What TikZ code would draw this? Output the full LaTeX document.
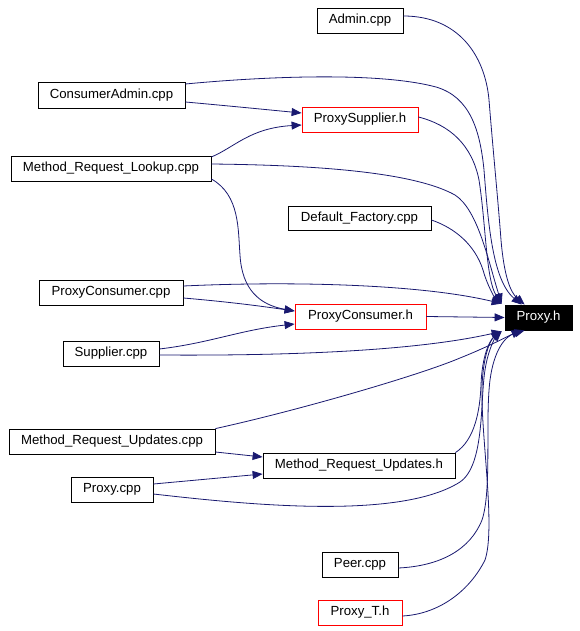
\documentclass[tikz,border=0pt]{standalone}
\usepackage{fontspec}
\setmainfont{Liberation Sans}
\usetikzlibrary{arrows.meta,calc}
\definecolor{edgec}{HTML}{191970}
\begin{document}
\begin{tikzpicture}[x=1pt,y=-1pt,
  box/.style={draw=black, line width=0.8pt, inner sep=0pt, minimum height=25pt,
    font=\fontsize{13.2}{15}\selectfont, fill=white},
  redbox/.style={box, draw=red},
  blackbox/.style={box, fill=black, text=white},
  edge/.style={draw=edgec, line width=0.8pt, -{Triangle[length=10pt,width=8pt]}}]
\useasboundingbox[fill=white] (0,0) rectangle (580,631);

% nodes
\node[box, minimum width=86pt] (admin) at (360,20.5) {Admin.cpp};
\node[box, minimum width=147pt, minimum height=26pt] (consadm) at (111.5,95) {ConsumerAdmin.cpp};
\node[redbox, minimum width=116pt] (proxsup) at (360,119.5) {ProxySupplier.h};
\node[box, minimum width=200pt] (mrl) at (111,168.5) {Method\_Request\_Lookup.cpp};
\node[box, minimum width=143pt, minimum height=24pt] (deffac) at (359.5,218) {Default\_Factory.cpp};
\node[box, minimum width=144pt] (pcc) at (111,292.5) {ProxyConsumer.cpp};
\node[redbox, minimum width=131pt] (pch) at (360.5,316.5) {ProxyConsumer.h};
\node[blackbox, minimum width=67pt] (proxyh) at (538.5,317.5) {Proxy.h};
\node[box, minimum width=96pt] (supp) at (111,353.5) {Supplier.cpp};
\node[box, minimum width=206pt] (mruc) at (112,441.5) {Method\_Request\_Updates.cpp};
\node[box, minimum width=192pt] (mruh) at (359,465.5) {Method\_Request\_Updates.h};
\node[box, minimum width=82pt] (proxc) at (112,489.5) {Proxy.cpp};
\node[box, minimum width=76pt] (peer) at (360,564.5) {Peer.cpp};
\node[redbox, minimum width=84pt] (proxt) at (360,612.5) {Proxy\_T.h};

% arrow tip points on Proxy.h
\coordinate (tl) at ($(proxyh.north west)+(-3,-1)$);
\coordinate (tr) at ($(proxyh.north west)+(17,0)$);
\coordinate (bl) at ($(proxyh.south west)+(-3,1)$);
\coordinate (br) at ($(proxyh.south west)+(17,0)$);

% edges into Proxy.h
\draw[edge] ($(admin.east)+(0,-4.5)$) .. controls (458,16) and (485,55) .. (489,100)
  .. controls (493,150) and (498,200) .. (501,240)
  .. controls (504,275) and (510,292) .. ($(tr)+(3,0)$);
\draw[edge] ($(consadm.east)+(0,-11)$) .. controls (270,76) and (380,72) .. (436,87)
  .. controls (470,97) and (480,130) .. (484,170)
  .. controls (488,220) and (492,280) .. (tr);
\draw[edge] ($(proxsup.east)+(0,-2.5)$) .. controls (450,125) and (472,145) .. (479,180)
  .. controls (486,225) and (486,280) .. (tl);
\draw[edge] ($(mrl.east)+(0,-4.5)$) .. controls (300,165) and (410,170) .. (455,195)
  .. controls (478,210) and (488,260) .. (tl);
\draw[edge] ($(deffac.east)+(0,2)$) .. controls (455,228) and (475,245) .. (483,270)
  .. controls (487,285) and (495,298) .. (tl);
\draw[edge] ($(pcc.east)+(0,-6.5)$) .. controls (290,281) and (420,284) .. (tl);
\draw[edge] (pch.east) -- (proxyh.west);
\draw[edge] ($(supp.east)+(0,1.5)$) .. controls (300,356) and (420,350) .. (bl);
\draw[edge] (mruc.north east) .. controls (300,410) and (420,375) .. (460,358)
  .. controls (490,346) and (508,336) .. (br);
\draw[edge] (mruh.north east) .. controls (475,440) and (480,410) .. (481,385)
  .. controls (482,355) and (490,340) .. (bl);
\draw[edge] ($(proxc.east)+(0,4.5)$) .. controls (250,505) and (400,520) .. (460,482)
  .. controls (485,465) and (480,400) .. (485,370)
  .. controls (488,350) and (495,338) .. (bl);
\draw[edge] ($(peer.east)+(0,3.5)$) .. controls (440,566) and (470,550) .. (482,520)
  .. controls (492,490) and (485,420) .. (490,380)
  .. controls (494,350) and (505,336) .. ($(br)+(3,0)$);
\draw[edge] ($(proxt.east)+(0,3.5)$) .. controls (440,614) and (470,590) .. (485,560)
  .. controls (495,530) and (483,450) .. (482,400)
  .. controls (481,360) and (490,340) .. (bl);

% other edges
\draw[edge] ($(consadm.east)+(0,7)$) .. controls (230,106) and (270,110) .. ($(proxsup.west)+(0,-6.5)$);
\draw[edge] ($(mrl.east)+(0,-11.5)$) .. controls (235,147) and (250,128) .. ($(proxsup.west)+(0,5.5)$);
\draw[edge] ($(mrl.east)+(0,10.5)$) .. controls (240,195) and (238,230) .. (240,255)
  .. controls (242,290) and (260,305) .. ($(pch.west)+(0,-5.5)$);
\draw[edge] ($(pcc.east)+(0,5.5)$) .. controls (230,302) and (260,306) .. ($(pch.west)+(0,-5.5)$);
\draw[edge] ($(supp.east)+(0,-4.5)$) .. controls (210,343) and (240,330) .. ($(pch.west)+(0,7.5)$);
\draw[edge] ($(mruc.east)+(0,10.5)$) -- ($(mruh.west)+(0,-8.5)$);
\draw[edge] ($(proxc.east)+(0,-5.5)$) -- ($(mruh.west)+(0,8.5)$);
\end{tikzpicture}
\end{document}
